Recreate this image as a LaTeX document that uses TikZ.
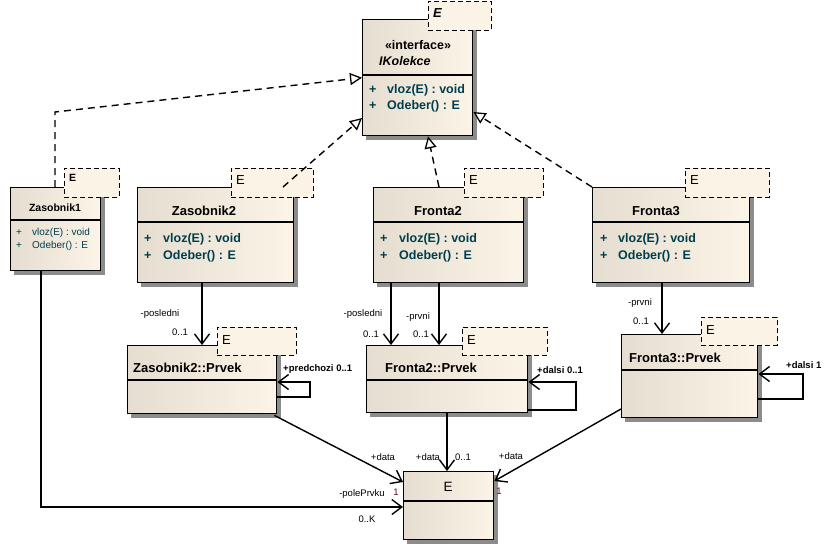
\documentclass[tikz,border=0pt]{standalone}
\usepackage{fontspec}
\setmainfont{Liberation Sans}
\usetikzlibrary{arrows.meta}

\definecolor{clsL}{RGB}{229,221,207}
\definecolor{clsR}{RGB}{252,244,231}
\definecolor{tmplFill}{RGB}{251,243,229}
\definecolor{opText}{RGB}{0,62,78}
\definecolor{multText}{RGB}{110,0,50}
\definecolor{shadowGray}{RGB}{140,140,140}

\tikzset{
  cls/.style={draw, line width=1.4pt, left color=clsL, right color=clsR,
    anchor=north west, inner sep=0pt},
  shadowline/.style={draw=shadowGray, line width=4pt},
  tmpl/.style={draw, dash pattern=on 5pt off 3pt, line width=0.9pt, fill=tmplFill, anchor=north west, inner sep=0pt},
  sep/.style={line width=1.2pt},
  title/.style={font=\fontsize{13}{15}\selectfont\bfseries, inner sep=0pt},
  smalltitle/.style={font=\fontsize{10.5}{12}\selectfont\bfseries, inner sep=0pt},
  op/.style={font=\fontsize{12.5}{14}\selectfont\bfseries, text=opText, anchor=west, inner sep=0pt},
  smallop/.style={font=\fontsize{10}{12}\selectfont, text=opText, anchor=west, inner sep=0pt},
  tparam/.style={font=\fontsize{13}{15}\selectfont, anchor=west, inner sep=0pt},
  lbl/.style={font=\fontsize{9.5}{11}\selectfont, inner sep=0pt},
  multlbl/.style={font=\fontsize{9.5}{11}\selectfont, text=multText, inner sep=0pt},
  real/.style={line width=1.4pt, dash pattern=on 7pt off 5pt,
    -{Triangle[length=12pt, width=12pt, fill=white, line width=1.3pt]}},
  assoc/.style={line width=1.4pt, -{Straight Barb[length=10pt, width=15pt, line width=1.4pt]}}
}

\begin{document}
\begin{tikzpicture}[x=1pt, y=-1pt]
\useasboundingbox (0,0) rectangle (832,550);

% ---- interface IKolekce
\node[cls, minimum width=110pt, minimum height=116pt] (ik) at (362,19) {};
\draw[shadowline] (474.6,23) -- (474.6,137.6) -- (366,137.6);
\draw[sep] (ik.west |- 0,75) -- (ik.east |- 0,75);
\node[tmpl, minimum width=63pt, minimum height=29pt] (ikT) at (428,1) {};
\node[tparam, font=\fontsize{13}{15}\selectfont\bfseries\itshape] (ikTE) at (433,13) {E};
\node[title, font=\fontsize{12.5}{15}\selectfont\bfseries] (ikS) at (418,45) {«interface»};
\node[title, font=\fontsize{12.5}{15}\selectfont\bfseries\itshape, anchor=west] (ikN) at (379,61) {IKolekce};
\node[op] (ikP1) at (369,90) {+};
\node[op] (ikO1) at (387,90) {vloz(E) : void};
\node[op] (ikP2) at (369,106) {+};
\node[op] (ikO2) at (387,106) {Odeber() : E};

% ---- Zasobnik1
\node[cls, minimum width=90pt, minimum height=83pt] (z1) at (10,187) {};
\draw[shadowline] (102.6,191) -- (102.6,272.6) -- (14,272.6);
\draw[sep] (z1.west |- 0,220) -- (z1.east |- 0,220);
\node[tmpl, minimum width=55pt, minimum height=29pt] (z1T) at (64,168) {};
\node[tparam, font=\fontsize{10.5}{12}\selectfont\bfseries] (z1TE) at (69,178) {E};
\node[smalltitle] (z1N) at (55,208) {Zasobnik1};
\node[smallop] (z1P1) at (16,233) {+};
\node[smallop] (z1O1) at (32,233) {vloz(E) : void};
\node[smallop] (z1P2) at (16,246) {+};
\node[smallop] (z1O2) at (32,246) {Odeber() : E};

% ---- Zasobnik2
\node[cls, minimum width=156pt, minimum height=95pt] (z2) at (137,187) {};
\draw[shadowline] (295.6,191) -- (295.6,284.6) -- (141,284.6);
\draw[sep] (z2.west |- 0,222) -- (z2.east |- 0,222);
\node[tmpl, minimum width=82pt, minimum height=29pt] (z2T) at (231,168) {};
\node[tparam] (z2TE) at (236,180) {E};
\node[title] (z2N) at (204,211) {Zasobnik2};
\node[op] (z2P1) at (144,239) {+};
\node[op] (z2O1) at (163,239) {vloz(E) : void};
\node[op] (z2P2) at (144,256) {+};
\node[op] (z2O2) at (163,256) {Odeber() : E};

% ---- Fronta2
\node[cls, minimum width=150pt, minimum height=95pt] (f2) at (373,187) {};
\draw[shadowline] (525.6,191) -- (525.6,284.6) -- (377,284.6);
\draw[sep] (f2.west |- 0,222) -- (f2.east |- 0,222);
\node[tmpl, minimum width=79pt, minimum height=29pt] (f2T) at (464,168) {};
\node[tparam] (f2TE) at (469,180) {E};
\node[title] (f2N) at (438,211) {Fronta2};
\node[op] (f2P1) at (380,239) {+};
\node[op] (f2O1) at (399,239) {vloz(E) : void};
\node[op] (f2P2) at (380,256) {+};
\node[op] (f2O2) at (399,256) {Odeber() : E};

% ---- Fronta3
\node[cls, minimum width=157pt, minimum height=95pt] (f3) at (592,187) {};
\draw[shadowline] (751.6,191) -- (751.6,284.6) -- (596,284.6);
\draw[sep] (f3.west |- 0,222) -- (f3.east |- 0,222);
\node[tmpl, minimum width=84pt, minimum height=29pt] (f3T) at (685,168) {};
\node[tparam] (f3TE) at (690,180) {E};
\node[title] (f3N) at (656,211) {Fronta3};
\node[op] (f3P1) at (600,239) {+};
\node[op] (f3O1) at (618,239) {vloz(E) : void};
\node[op] (f3P2) at (600,256) {+};
\node[op] (f3O2) at (618,256) {Odeber() : E};

% ---- Zasobnik2::Prvek
\node[cls, minimum width=149pt, minimum height=68pt] (z2p) at (127,345) {};
\draw[shadowline] (278.6,349) -- (278.6,415.6) -- (131,415.6);
\draw[sep] (z2p.west |- 0,380) -- (z2p.east |- 0,380);
\node[tmpl, minimum width=79pt, minimum height=28pt] (z2pT) at (217,327) {};
\node[tparam] (z2pTE) at (222,340) {E};
\node[title, anchor=west] (z2pN) at (133,368) {Zasobnik2::Prvek};

% ---- Fronta2::Prvek
\node[cls, minimum width=161pt, minimum height=67pt] (f2p) at (366,345) {};
\draw[shadowline] (529.6,349) -- (529.6,414.6) -- (370,414.6);
\draw[sep] (f2p.west |- 0,380) -- (f2p.east |- 0,380);
\node[tmpl, minimum width=85pt, minimum height=28pt] (f2pT) at (462,327) {};
\node[tparam] (f2pTE) at (467,340) {E};
\node[title, anchor=west] (f2pN) at (385,368) {Fronta2::Prvek};

% ---- Fronta3::Prvek
\node[cls, minimum width=136pt, minimum height=83pt] (f3p) at (621,334) {};
\draw[shadowline] (759.6,338) -- (759.6,419.6) -- (625,419.6);
\draw[sep] (f3p.west |- 0,370) -- (f3p.east |- 0,370);
\node[tmpl, minimum width=76pt, minimum height=28pt] (f3pT) at (701,317) {};
\node[tparam] (f3pTE) at (706,330) {E};
\node[title, anchor=west] (f3pN) at (629,358) {Fronta3::Prvek};

% ---- E
\node[cls, minimum width=90pt, minimum height=68pt] (e) at (403,471) {};
\draw[shadowline] (495.6,475) -- (495.6,541.6) -- (407,541.6);
\draw[sep] (e.west |- 0,501) -- (e.east |- 0,501);
\node[title, font=\fontsize{13.5}{15}\selectfont] (eN) at (448,487) {E};

% ---- realizations of IKolekce
\coordinate (z1top) at (55,187);
\coordinate (z1bend) at (55,112);
\draw[real] (z1top) -- (z1bend) -- (ik.west);
\draw[real] (z2.north -| 283,0) -- (ik.west |- 0,118);
\draw[real] (f2.north -| 439,0) -- (ik.south -| 428,0);
\draw[real] (f3.north west) -- (ik.east |- 0,112);

% ---- associations to the Prvek classes
\draw[assoc] (z2.south -| 202,0) -- (z2p.north -| 202,0);
\node[lbl] (l1) at (160,314) {-posledni};
\node[lbl] (l2) at (180,332) {0..1};

\draw[assoc] (f2.south -| 391,0) -- (f2p.north -| 391,0);
\node[lbl] (l3) at (363,314) {-posledni};
\node[lbl] (l4) at (371,334) {0..1};
\draw[assoc] (f2.south -| 439,0) -- (f2p.north -| 439,0);
\node[lbl] (l5) at (418,317) {-prvni};
\node[lbl] (l6) at (421,334) {0..1};

\draw[assoc] (f3.south -| 662,0) -- (f3p.north -| 662,0);
\node[lbl] (l7) at (640,303) {-prvni};
\node[lbl] (l8) at (641,321) {0..1};

% ---- self associations
\coordinate (z2pa) at (310,397);
\coordinate (z2pb) at (310,382);
\draw[assoc] (z2p.east |- z2pa) -- (z2pa) -- (z2pb) -- (z2p.east |- z2pb);
\node[lbl, font=\fontsize{9.5}{11}\selectfont\bfseries, anchor=west] (l9) at (283,369) {+predchozi 0..1};

\coordinate (f2pa) at (576,410);
\coordinate (f2pb) at (576,382);
\draw[assoc] (f2p.east |- f2pa) -- (f2pa) -- (f2pb) -- (f2p.east |- f2pb);
\node[lbl, font=\fontsize{9.5}{11}\selectfont\bfseries, anchor=west] (l10) at (537,370) {+dalsi 0..1};

\coordinate (f3pa) at (803,399);
\coordinate (f3pb) at (803,374);
\draw[assoc] (f3p.east |- f3pa) -- (f3pa) -- (f3pb) -- (f3p.east |- f3pb);
\node[lbl, font=\fontsize{9.5}{11}\selectfont\bfseries, anchor=west] (l11) at (786,365) {+dalsi 1};

% ---- data links to E
\draw[assoc] (z2p.south east) ++(-3,1) -- (e.west |- 0,482);
\node[lbl] (l12) at (383,457) {+data};
\draw[assoc] (f2p.south -| 447,0) -- (e.north -| 447,0);
\node[lbl] (l13) at (428,457) {+data};
\node[lbl] (l14) at (463,457) {0..1};
\draw[assoc] (f3p.west |- 0,409) -- (e.east |- 0,481);
\node[lbl] (l15) at (511,456) {+data};
\node[multlbl] (l16) at (396,492) {1};
\node[multlbl] (l17) at (499,491) {1};

\coordinate (z1corner) at (41,507);
\draw[assoc] (z1.south -| 41,0) -- (z1corner) -- (e.west |- z1corner);
\node[lbl] (l18) at (362,494) {-polePrvku};
\node[lbl] (l19) at (367,519) {0..K};
\end{tikzpicture}
\end{document}
